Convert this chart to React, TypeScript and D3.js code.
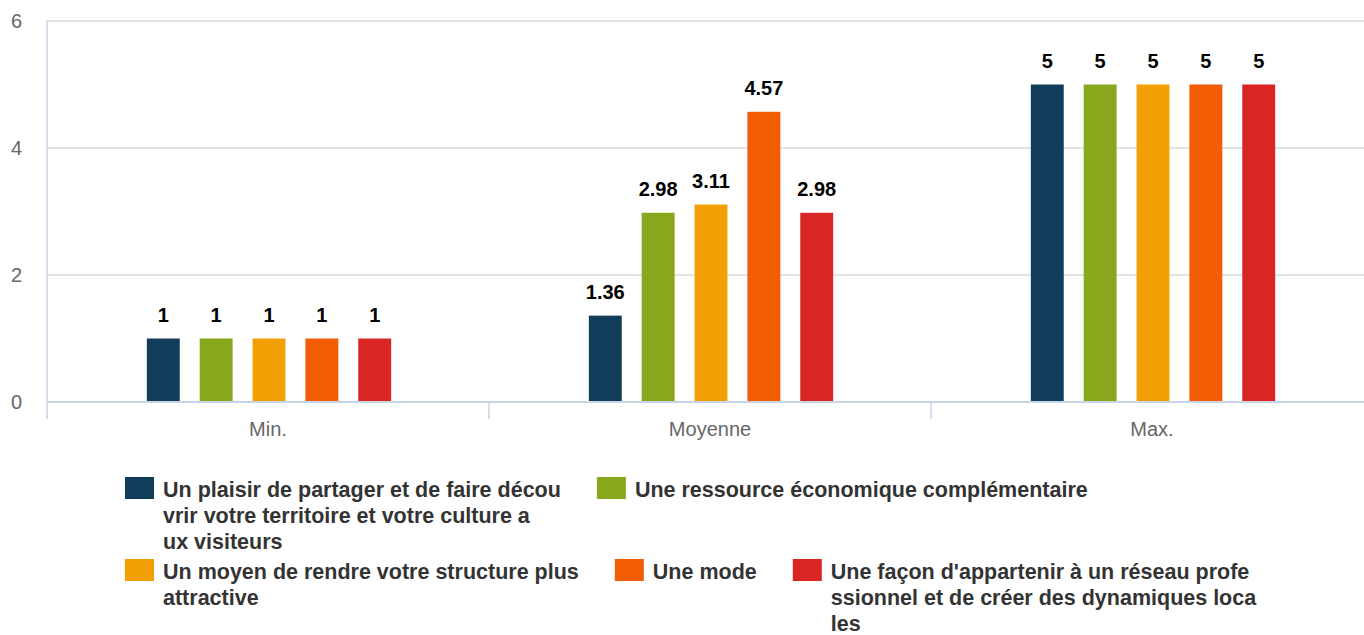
import React, { useEffect, useRef } from "react";
import * as d3 from "d3";

const categories = ["Min.", "Moyenne", "Max."];
const seriesNames = [
  "Un plaisir de partager et de faire découvrir votre territoire et votre culture aux visiteurs",
  "Une ressource économique complémentaire",
  "Un moyen de rendre votre structure plus attractive",
  "Une mode",
  "Une façon d'appartenir à un réseau professionnel et de créer des dynamiques locales",
];
const legendLines = [
  ["Un plaisir de partager et de faire décou", "vrir votre territoire et votre culture a", "ux visiteurs"],
  ["Une ressource économique complémentaire"],
  ["Un moyen de rendre votre structure plus", "attractive"],
  ["Une mode"],
  ["Une façon d'appartenir à un réseau profe", "ssionnel et de créer des dynamiques loca", "les"],
];
const plaisirValues = [1, 1.36, 5];
const ressourceValues = [1, 2.98, 5];
const moyenValues = [1, 3.11, 5];
const modeValues = [1, 4.57, 5];
const reseauValues = [1, 2.98, 5];
const seriesValues = [plaisirValues, ressourceValues, moyenValues, modeValues, reseauValues];
const colors = ["#113d5a", "#89a71d", "#f2a005", "#f25c05", "#da2525"];
const yTicks = [0, 2, 4, 6];

const W = 1364;
const H = 635;

export default function App() {
  const ref = useRef<SVGSVGElement>(null);

  useEffect(() => {
    const svg = d3.select(ref.current);
    svg.selectAll("*").remove();

    const left = 47;
    const right = 1373;
    const top = 21;
    const bottom = 402;
    const font = "'Liberation Sans', Arial, Helvetica, sans-serif";

    const x0 = d3.scaleBand<string>().domain(categories).range([left, right]).paddingInner(0).paddingOuter(0);
    const x1 = d3
      .scaleBand<number>()
      .domain(d3.range(seriesNames.length))
      .range([0, x0.bandwidth()])
      .paddingInner(20 / 53)
      .paddingOuter(1.87);
    const y = d3.scaleLinear().domain([0, 6]).range([bottom, top]);

    // gridlines
    svg
      .append("g")
      .selectAll("line")
      .data(yTicks.filter((t) => t !== 0))
      .join("line")
      .attr("x1", left)
      .attr("x2", W)
      .attr("y1", (d) => y(d))
      .attr("y2", (d) => y(d))
      .attr("stroke", "#dadada")
      .attr("stroke-width", 1.5);

    // y labels
    svg
      .append("g")
      .selectAll("text")
      .data(yTicks)
      .join("text")
      .attr("x", 22)
      .attr("y", (d) => y(d) + 7)
      .attr("text-anchor", "end")
      .attr("font-family", font)
      .attr("font-size", 20)
      .attr("fill", "#666")
      .text((d) => String(d));

    // bars
    const groups = svg
      .append("g")
      .selectAll("g")
      .data(categories)
      .join("g")
      .attr("transform", (c) => `translate(${x0(c)! + 1},0)`);

    groups
      .selectAll("rect")
      .data((c) => seriesValues.map((vals, si) => ({ si, v: vals[categories.indexOf(c)] })))
      .join("rect")
      .attr("x", (d) => x1(d.si)!)
      .attr("width", x1.bandwidth())
      .attr("y", (d) => y(d.v))
      .attr("height", (d) => y(0) - y(d.v))
      .attr("fill", (d) => colors[d.si]);

    groups
      .selectAll("text")
      .data((c) => seriesValues.map((vals, si) => ({ si, v: vals[categories.indexOf(c)] })))
      .join("text")
      .attr("x", (d) => x1(d.si)! + x1.bandwidth() / 2)
      .attr("y", (d) => y(d.v) - 16.5)
      .attr("text-anchor", "middle")
      .attr("font-family", font)
      .attr("font-size", 20)
      .attr("font-weight", "bold")
      .attr("fill", "#000")
      .attr("stroke", "#fff")
      .attr("stroke-width", 2)
      .attr("stroke-opacity", 0.6)
      .attr("paint-order", "stroke")
      .text((d) => String(d.v));

    // axes lines
    const axisColor = "#c8d5e6";
    svg
      .append("line")
      .attr("x1", left)
      .attr("x2", W)
      .attr("y1", bottom)
      .attr("y2", bottom)
      .attr("stroke", axisColor)
      .attr("stroke-width", 2);
    const tickPositions = categories.map((c) => x0(c)!).concat([right]);
    svg
      .append("g")
      .selectAll("line")
      .data(tickPositions)
      .join("line")
      .attr("x1", (d) => d)
      .attr("x2", (d) => d)
      .attr("y1", (d, i) => (i === 0 ? top : bottom))
      .attr("y2", 419)
      .attr("stroke", axisColor)
      .attr("stroke-width", 1.5);

    // category labels
    svg
      .append("g")
      .selectAll("text")
      .data(categories)
      .join("text")
      .attr("x", (c) => x0(c)! + x0.bandwidth() / 2)
      .attr("y", 436)
      .attr("text-anchor", "middle")
      .attr("font-family", font)
      .attr("font-size", 20)
      .attr("fill", "#666")
      .text((c) => c);

    // legend (flow layout)
    const legend = svg.append("g");
    const startX = 125;
    const maxX = 1320;
    const swW = 29;
    const swH = 22;
    const textGap = 9;
    const lineH = 26;
    const itemDist = 36;
    let cx = startX;
    let cy = 477;
    let rowLines = 1;
    legendLines.forEach((lines, i) => {
      const g = legend.append("g");
      const t = g
        .append("text")
        .attr("font-family", font)
        .attr("font-size", 21.5)
        .attr("font-weight", "bold")
        .attr("fill", "#333");
      lines.forEach((ln, li) => {
        t.append("tspan").attr("x", swW + textGap).attr("y", 20 + li * lineH).text(ln);
      });
      g.append("rect").attr("x", 0).attr("y", 0).attr("width", swW).attr("height", swH).attr("fill", colors[i]);
      const w = (g.node() as SVGGElement).getBBox().width;
      if (cx + w > maxX && cx > startX) {
        cx = startX;
        cy += rowLines * lineH + 4;
        rowLines = 1;
      }
      g.attr("transform", `translate(${cx},${cy})`);
      cx += w + itemDist;
      rowLines = Math.max(rowLines, lines.length);
    });
  }, []);

  return (
    <svg
      ref={ref}
      width={W}
      height={H}
      style={{ position: "absolute", left: 0, top: 0, display: "block", background: "#fff" }}
    />
  );
}
